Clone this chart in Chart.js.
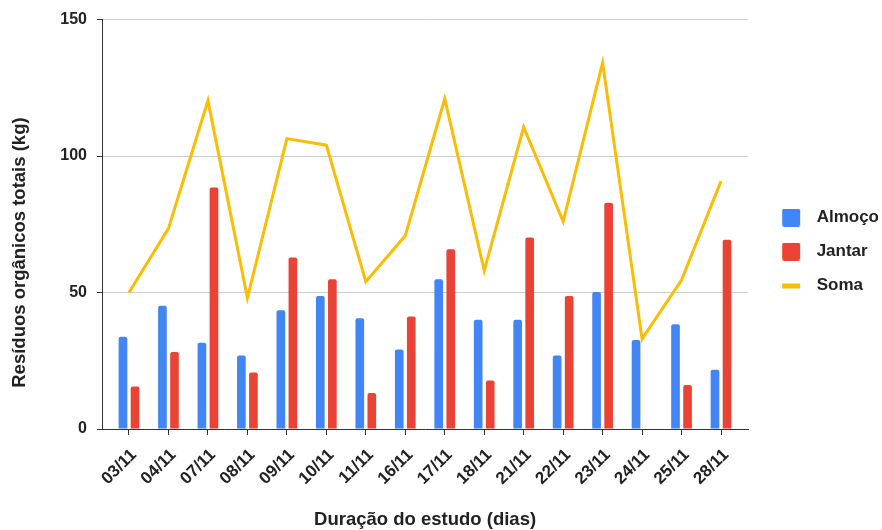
<!DOCTYPE html>
<html>
<head>
<meta charset="utf-8">
<script src="https://cdn.jsdelivr.net/npm/chart.js@4/dist/chart.umd.min.js"></script>
<style>
  html, body { margin: 0; padding: 0; background: #ffffff; }
  #wrap { width: 882px; height: 530px; }
</style>
</head>
<body>
<div id="wrap"><canvas id="chart" width="882" height="530"></canvas></div>
<script>
// Study days
const dates = ['03/11', '04/11', '07/11', '08/11', '09/11', '10/11', '11/11', '16/11',
               '17/11', '18/11', '21/11', '22/11', '23/11', '24/11', '25/11', '28/11'];
// Organic waste per meal (kg)
const almoco = [33.8, 45.2, 31.6, 26.9, 43.5, 48.7, 40.6, 29.1, 54.9, 40.0, 40.0, 26.9, 50.2, 32.6, 38.4, 21.7];
const jantar = [15.6, 28.2, 88.5, 20.7, 62.8, 54.9, 13.2, 41.2, 65.9, 17.8, 70.2, 48.7, 82.9, 0, 16.1, 69.3];
// Daily total (kg)
const soma = [50.0, 73.5, 120.3, 48.0, 106.4, 104.0, 54.0, 70.8, 121.0, 58.0, 110.6, 76.0, 134.2, 33.0, 54.6, 90.8];
// Value axis ticks
const yTicks = [0, 50, 100, 150];

const FONT = "'Liberation Sans', Arial, Helvetica, sans-serif";
const INK = '#222222';
const BLUE = '#4285F4';
const RED = '#EA4335';
const YELLOW = '#FBBC04';

Chart.defaults.font.family = FONT;
Chart.defaults.font.weight = 'bold';
Chart.defaults.color = INK;

const toPoints = arr => arr.map((v, i) => ({ x: i, y: v }));

// Legend swatch: a small square (or a thick dash) drawn inside a wider slot,
// so the label text sits a little further from the marker.
function swatch(color, kind) {
  const c = document.createElement('canvas');
  c.width = 36; c.height = 18;
  const g = c.getContext('2d');
  g.fillStyle = color;
  if (kind === 'line') {
    g.fillRect(10, 7, 18, 5);
  } else {
    g.beginPath();
    if (g.roundRect) g.roundRect(10, 0, 18, 18, 2); else g.rect(10, 0, 18, 18);
    g.fill();
  }
  return c;
}

// Nudge the legend block so it sits beside the plot
const legendShift = {
  id: 'legendShift',
  afterLayout(chart) {
    const lg = chart.legend;
    if (!lg) return;
    lg.left += 7; lg.right += 7;
    lg.top -= 23; lg.bottom -= 23;
  }
};

new Chart(document.getElementById('chart'), {
  type: 'bar',
  data: {
    datasets: [
      {
        label: 'Almoço',
        data: toPoints(almoco),
        backgroundColor: BLUE,
        borderWidth: 0,
        borderRadius: 2,
        borderSkipped: 'start',
        categoryPercentage: 0.61,
        barPercentage: 0.72,
        order: 1
      },
      {
        label: 'Jantar',
        data: toPoints(jantar),
        backgroundColor: RED,
        borderWidth: 0,
        borderRadius: 2,
        borderSkipped: 'start',
        categoryPercentage: 0.61,
        barPercentage: 0.72,
        order: 1
      },
      {
        type: 'line',
        label: 'Soma',
        data: toPoints(soma),
        borderColor: YELLOW,
        backgroundColor: YELLOW,
        borderWidth: 3,
        borderJoinStyle: 'miter',
        borderCapStyle: 'butt',
        pointRadius: 0,
        tension: 0,
        fill: false,
        order: 0
      }
    ]
  },
  options: {
    responsive: false,
    animation: false,
    devicePixelRatio: 1,
    layout: { padding: { top: 19, left: 0, right: 0, bottom: 0 } },
    plugins: {
      tooltip: { enabled: false },
      legend: {
        position: 'right',
        align: 'center',
        labels: {
          usePointStyle: true,
          pointStyleWidth: 36,
          boxHeight: 17,
          padding: 17,
          color: INK,
          font: { family: FONT, size: 17, weight: 'bold' },
          sort: (a, b) => a.datasetIndex - b.datasetIndex,
          generateLabels(chart) {
            const items = Chart.defaults.plugins.legend.labels.generateLabels(chart);
            items.forEach(it => {
              const ds = chart.data.datasets[it.datasetIndex];
              const isLine = ds.type === 'line';
              it.pointStyle = swatch(isLine ? ds.borderColor : ds.backgroundColor, isLine ? 'line' : 'box');
              it.lineWidth = 0;
            });
            return items;
          }
        }
      }
    },
    scales: {
      x: {
        type: 'linear',
        min: -0.684,
        max: 15.688,
        offset: false,
        bounds: 'data',
        afterBuildTicks: s => { s.ticks = dates.map((_, i) => ({ value: i })); },
        afterFit: s => { s.height = 101; },
        border: { display: true, color: '#333333', width: 1 },
        grid: { offset: false, drawOnChartArea: false, drawTicks: true, tickLength: 6, color: '#333333' },
        ticks: {
          autoSkip: false,
          minRotation: 45,
          maxRotation: 45,
          padding: 10,
          labelOffset: 5,
          color: INK,
          font: { family: FONT, size: 17, weight: 'bold' },
          callback: v => dates[v]
        },
        title: {
          display: true,
          text: 'Duração do estudo (dias)',
          color: INK,
          font: { family: FONT, size: 18.5, weight: 'bold' },
          padding: { top: 0, bottom: -1 }
        }
      },
      y: {
        min: 0,
        max: 150,
        afterBuildTicks: s => { s.ticks = yTicks.map(v => ({ value: v })); },
        afterFit: s => { s.width = 102; },
        border: { display: true, color: '#333333', width: 1 },
        grid: {
          color: c => (c.tick && c.tick.value === 0) ? 'rgba(0,0,0,0)' : '#cccccc',
          tickColor: '#333333',
          tickLength: 5,
          lineWidth: 1
        },
        ticks: {
          padding: 10,
          color: INK,
          font: { family: FONT, size: 16, weight: 'bold' }
        },
        title: {
          display: true,
          text: 'Resíduos orgânicos totais (kg)           ',
          color: INK,
          font: { family: FONT, size: 18.5, weight: 'bold' },
          padding: { top: 9, bottom: 0 }
        }
      }
    }
  },
  plugins: [legendShift]
});
</script>
</body>
</html>
